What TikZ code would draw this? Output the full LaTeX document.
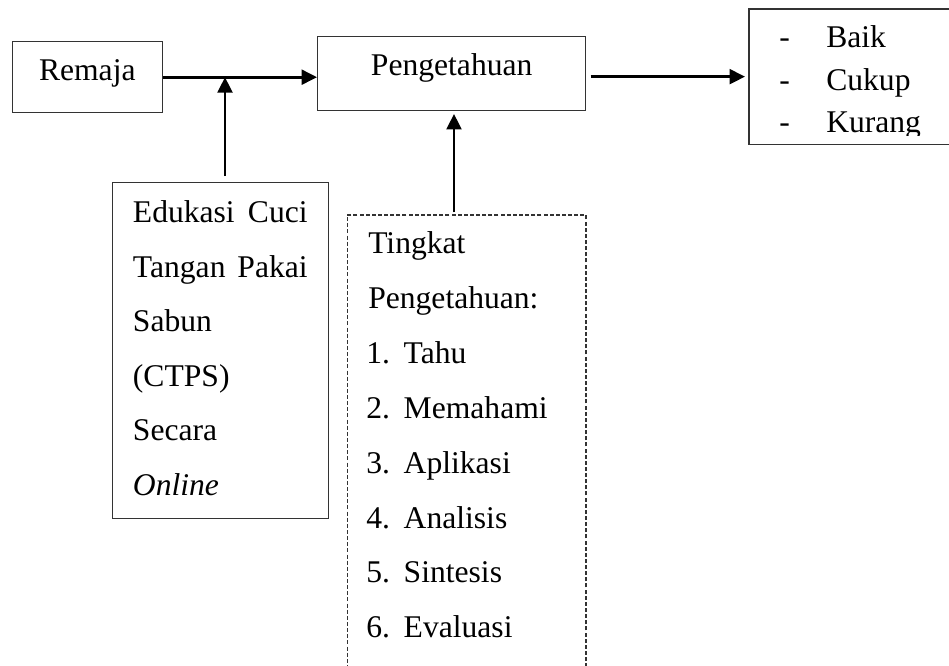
\documentclass[tikz,border=0pt]{standalone}
\usepackage{fontspec}
\setmainfont{Liberation Serif}
\usetikzlibrary{arrows.meta}
\begin{document}
\begin{tikzpicture}[x=0.75pt,y=-0.75pt,
  bx/.style={draw=black!80, line width=1pt, inner sep=0pt},
  dbx/.style={draw=black!80, line width=0.8pt, dash pattern=on 3pt off 1.6pt, inner sep=0pt},
  txt/.style={inner sep=0pt, anchor=base west},
  arr/.style={line width=2.2pt, -{Triangle[length=11.5pt,width=11pt]}},
  font=\fontsize{23.7}{28}\selectfont]
\clip (0,0) rectangle (949,666);
% boxes
\node[bx, minimum width=112.5pt, minimum height=53.25pt, text height=12pt, text depth=6.3pt] (remaja) at (87.3,77.2) {Remaja};
\node[bx, minimum width=201pt, minimum height=55.5pt, text height=12pt, text depth=8.55pt] (peng) at (451.7,73.7) {Pengetahuan};
\node[bx, minimum width=158.25pt, minimum height=101.5pt] (out) at (854.5,76.65) {};
\node[bx, minimum width=162pt, minimum height=251.7pt] (edu) at (220.3,350.5) {};
\node[dbx, minimum width=179pt, minimum height=348.75pt] (tk) at (466.65,447.5) {};
% outcome text
\begin{scope}
\clip (740,0) rectangle (949,135.5);
\node[txt] (o1d) at (779,48) {-};
\node[txt] (o1) at (826,48) {Baik};
\node[txt] (o2d) at (779,90.5) {-};
\node[txt] (o2) at (826,90.5) {Cukup};
\node[txt] (o3d) at (779,133) {-};
\node[txt] (o3) at (826,133) {Kurang};
\end{scope}
% education text
\node[txt] (e1) at (132.7,222.5) {\hbox to 131pt{Edukasi\hfill Cuci}};
\node[txt] (e2) at (132.7,277.1) {\hbox to 131pt{Tangan\hfill Pakai}};
\node[txt] (e3) at (132.7,331.7) {Sabun};
\node[txt] (e4) at (132.7,386.3) {(CTPS)};
\node[txt] (e5) at (132.7,440.9) {Secara};
\node[txt] (e6) at (132.7,495.5) {\textit{Online}};
% level text
\node[txt] (t1) at (368,254) {Tingkat};
\node[txt] (t2) at (368,308.8) {Pengetahuan:};
\node[txt] (t3) at (366,363.6) {\makebox[28.1pt][l]{1.}Tahu};
\node[txt] (t4) at (366,418.4) {\makebox[28.1pt][l]{2.}Memahami};
\node[txt] (t5) at (366,473.2) {\makebox[28.1pt][l]{3.}Aplikasi};
\node[txt] (t6) at (366,528) {\makebox[28.1pt][l]{4.}Analisis};
\node[txt] (t7) at (366,582.8) {\makebox[28.1pt][l]{5.}Sintesis};
\node[txt] (t8) at (366,637.6) {\makebox[28.1pt][l]{6.}Evaluasi};
% connectors
\draw[arr] (remaja.east) -- (remaja.east -| peng.west);
\draw[arr] ([shift={(4.7,-6)}]edu.north) coordinate (eo) -- (eo |- remaja.east);
\draw[arr, shorten >=1.95pt] ([shift={(-12.65,-2)}]tk.north) coordinate (to) -- (to |- peng.south);
\draw[arr, shorten <=3.2pt, shorten >=2.5pt] (peng.east |- out.west) -- (out.west);
\end{tikzpicture}
\end{document}
